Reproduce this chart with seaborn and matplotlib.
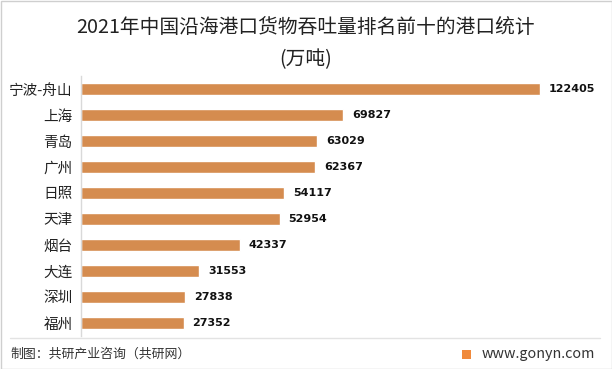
import matplotlib
matplotlib.use("Agg")
import matplotlib.pyplot as plt
import seaborn as sns
import pandas as pd
from matplotlib.patches import Rectangle

# ========== 数据 ==========
ports = ["宁波-舟山", "上海", "青岛", "广州", "日照", "天津", "烟台", "大连", "深圳", "福州"]
throughput = [122405, 69827, 63029, 62367, 54117, 52954, 42337, 31553, 27838, 27352]

BAR_COLOR = "#D58C4F"

sns.set_theme(style="white")
plt.rcParams["font.family"] = ["Noto Sans CJK SC", "DejaVu Sans"]
plt.rcParams["axes.unicode_minus"] = False

df = pd.DataFrame({"港口": ports, "吞吐量": throughput})

fig = plt.figure(figsize=(6.12, 3.69), dpi=100)
ax = fig.add_axes([81 / 612, 1 - 336 / 369, (600 - 81) / 612, 260 / 369])

sns.barplot(data=df, y="港口", x="吞吐量", color=BAR_COLOR, width=0.43,
            saturation=1, ax=ax, orient="h")
ax.set_xlim(0, 138400)
ax.set_ylim(9.5, -0.5)
ax.set_xlabel("")
ax.set_ylabel("")
ax.set_xticks([])
ax.tick_params(axis="y", length=0, labelsize=10.5, pad=6, colors="#222222")
for s in ["top", "right", "bottom"]:
    ax.spines[s].set_visible(False)
ax.spines["left"].set_color("#D9D9D9")
ax.spines["left"].set_linewidth(1)

# 数值标签
for i, v in enumerate(throughput):
    ax.text(v + 2400, i, f"{v}", va="center", ha="left", fontsize=8,
            fontweight="bold", color="#111111", family=["DejaVu Sans"])

# 标题
fig.text(0.5, 1 - 28 / 369, "2021年中国沿海港口货物吞吐量排名前十的港口统计",
         ha="center", va="center", fontsize=14.2, color="#222222")
fig.text(0.5, 1 - 60 / 369, "(万吨)", ha="center", va="center",
         fontsize=14.2, color="#222222")

# 底部分隔线与来源
fig.add_artist(plt.Line2D([10 / 612, 600 / 612], [1 - 338 / 369, 1 - 338 / 369],
                          color="#E3E3E3", linewidth=1))
fig.text(10 / 612, 1 - 354 / 369, "制图：共研产业咨询（共研网）", ha="left",
         va="center", fontsize=9.3, color="#333333")
fig.add_artist(Rectangle((462 / 612, 1 - 359 / 369), 9 / 612, 9 / 369,
                         transform=fig.transFigure, color="#F08A3C", lw=0))
fig.text(482 / 612, 1 - 354 / 369, "www.gonyn.com", ha="left", va="center",
         fontsize=10.3, color="#333333")

# 外边框
fig.add_artist(Rectangle((0.5 / 612, 0.5 / 369), 611 / 612, 368 / 369,
                         transform=fig.transFigure, fill=False,
                         edgecolor="#CFCFCF", lw=1))

fig.savefig("out.png", dpi=100)
plt.close(fig)
